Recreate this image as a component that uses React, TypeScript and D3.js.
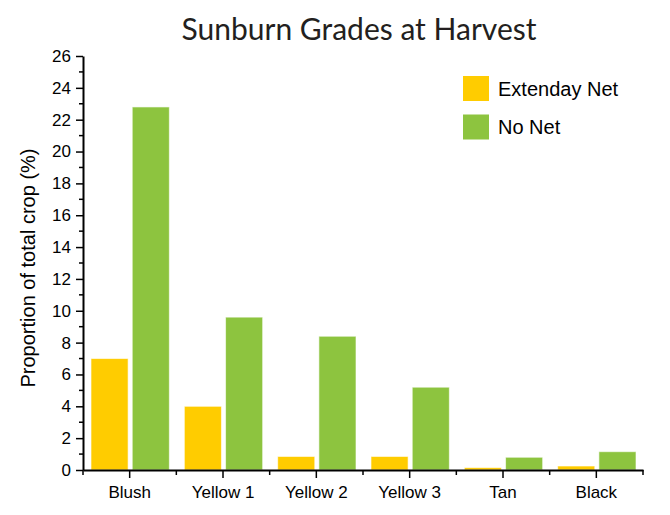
import React, { useEffect, useRef } from 'react'
import * as d3 from 'd3'

const grades = ['Blush', 'Yellow 1', 'Yellow 2', 'Yellow 3', 'Tan', 'Black']
const seriesNames = ['Extenday Net', 'No Net']
const extendayNet = [7.0, 4.0, 0.85, 0.85, 0.15, 0.25]
const noNet = [22.8, 9.6, 8.4, 5.2, 0.8, 1.15]
const colors = ['#FFCC00', '#8DC43F']
const yTicks = [0, 2, 4, 6, 8, 10, 12, 14, 16, 18, 20, 22, 24, 26]

const App: React.FC = () => {
  const svgRef = useRef<SVGSVGElement>(null)

  useEffect(() => {
    if (!svgRef.current) return
    const width = 670
    const height = 515
    const left = 83
    const right = 643
    const top = 56
    const bottom = 470
    const font = 'Liberation Sans, Arial, sans-serif'

    const svg = d3.select(svgRef.current)
    svg.selectAll('*').remove()
    svg.attr('width', width).attr('height', height)

    const x = d3.scaleBand<string>().domain(grades).range([left, right]).paddingInner(0).paddingOuter(0)
    const inner = d3.scaleBand<string>().domain(seriesNames).range([8, x.bandwidth() - 7]).paddingInner(0.1)
    const y = d3.scaleLinear().domain([0, 26]).range([bottom, top])

    const series = [extendayNet, noNet]
    series.forEach((vals, si) => {
      svg
        .append('g')
        .selectAll('rect')
        .data(vals)
        .enter()
        .append('rect')
        .attr('x', (d, i) => (x(grades[i]) ?? 0) + (inner(seriesNames[si]) ?? 0))
        .attr('y', (d) => y(d))
        .attr('width', inner.bandwidth())
        .attr('height', (d) => bottom - y(d))
        .attr('fill', colors[si])
        .attr('stroke', '#ffffff')
        .attr('stroke-opacity', 0.6)
        .attr('stroke-width', 1)
    })

    // y axis
    const yAxis = svg.append('g').attr('transform', `translate(${left},0)`)
    yAxis
      .call(d3.axisLeft(y).tickValues(yTicks).tickSize(7).tickSizeOuter(0).tickPadding(5))
      .call((g) => g.select('.domain').attr('stroke', '#000').attr('stroke-width', 2))
      .call((g) => g.selectAll('.tick line').attr('stroke-width', 1.5))
      .call((g) => g.selectAll('.tick text').attr('font-size', 17).attr('font-family', font).attr('fill', '#000'))
    yAxis
      .selectAll('.minor')
      .data(d3.range(1, 26, 2))
      .enter()
      .append('line')
      .attr('x1', -4)
      .attr('x2', 0)
      .attr('y1', (d) => y(d))
      .attr('y2', (d) => y(d))
      .attr('stroke', '#000')
      .attr('stroke-width', 1.5)

    // x axis
    const xAxis = svg.append('g').attr('transform', `translate(0,${bottom})`)
    xAxis
      .call(d3.axisBottom(x).tickSize(8).tickSizeOuter(0).tickPadding(8))
      .call((g) => g.select('.domain').attr('stroke', '#000').attr('stroke-width', 2))
      .call((g) => g.selectAll('.tick line').attr('stroke-width', 1.5))
      .call((g) => g.selectAll('.tick text').attr('font-size', 17).attr('font-family', font).attr('fill', '#000'))
    xAxis
      .selectAll('.minor')
      .data(d3.range(grades.length + 1))
      .enter()
      .append('line')
      .attr('x1', (i) => left + i * x.step())
      .attr('x2', (i) => left + i * x.step())
      .attr('y1', 0)
      .attr('y2', 5)
      .attr('stroke', '#000')
      .attr('stroke-width', 1.5)

    // y title
    svg
      .append('text')
      .attr('transform', `translate(35,268) rotate(-90)`)
      .attr('text-anchor', 'middle')
      .attr('font-family', font)
      .attr('font-size', 20)
      .attr('fill', '#000')
      .text('Proportion of total crop (%)')

    // title
    svg
      .append('text')
      .attr('x', 359)
      .attr('y', 40)
      .attr('text-anchor', 'middle')
      .attr('font-family', 'Lato, Open Sans, sans-serif')
      .attr('font-size', 30)
      .attr('fill', '#231f20')
      .text('Sunburn Grades at Harvest')

    // legend
    const legend = svg.append('g').attr('transform', 'translate(463,76)')
    seriesNames.forEach((name, i) => {
      const row = legend.append('g').attr('transform', `translate(0,${i * 38.5})`)
      row.append('rect').attr('width', 26).attr('height', 25).attr('fill', colors[i])
      row
        .append('text')
        .attr('x', 35)
        .attr('y', 12.5)
        .attr('dy', '0.35em')
        .attr('font-family', font)
        .attr('font-size', 20)
        .attr('fill', '#000')
        .text(name)
    })
  }, [])

  return <svg ref={svgRef} style={{ display: 'block', position: 'absolute', left: 0, top: 0 }} />
}

export default App
